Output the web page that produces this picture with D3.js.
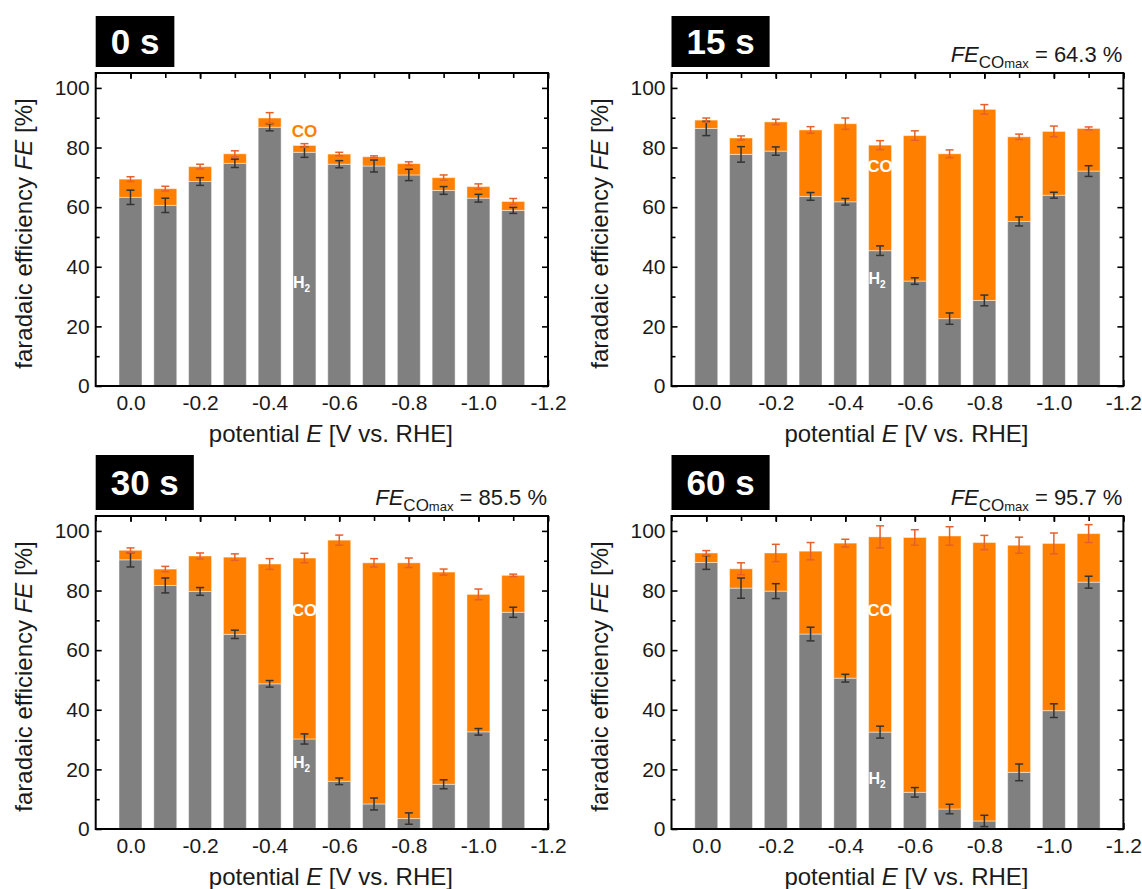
<!DOCTYPE html>
<html>
<head>
<meta charset="utf-8">
<script src="https://cdn.jsdelivr.net/npm/d3@7"></script>
<style>
  body { margin: 0; background: #fff; }
  svg { display: block; font-family: "Liberation Sans", Arial, sans-serif; }
</style>
</head>
<body>
<div id="chart"></div>
<script>
// x categories (potential, V vs. RHE)
const potentials = [0, -0.1, -0.2, -0.3, -0.4, -0.5, -0.6, -0.7, -0.8, -0.9, -1.0, -1.1];
const xTickValues = [0, -0.2, -0.4, -0.6, -0.8, -1.0, -1.2];
const xTickLabels = ["0.0", "-0.2", "-0.4", "-0.6", "-0.8", "-1.0", "-1.2"];
const xMinorTicks = [0.1, 0, -0.1, -0.2, -0.3, -0.4, -0.5, -0.6, -0.7, -0.8, -0.9, -1.0, -1.1, -1.2];
const yTickValues = [0, 20, 40, 60, 80, 100];
const yMinorTicks = [10, 30, 50, 70, 90];

// panel titles and FE_CO max
const panelTitles = ["0 s", "15 s", "30 s", "60 s"];
const feCoMax = [null, "64.3", "85.5", "95.7"];

// H2 and CO faradaic efficiencies (stacked), with error bars
const h2_0s = [63.3, 60.6, 68.6, 74.7, 86.8, 78.4, 74.4, 73.8, 70.8, 65.6, 63.0, 58.9];
const co_0s = [6.1, 5.6, 5.0, 3.2, 3.1, 2.3, 3.4, 3.1, 3.8, 4.3, 3.9, 3.0];
const h2Err_0s = [2.4, 2.4, 1.3, 1.4, 1.2, 1.7, 1.2, 2.0, 1.9, 1.3, 1.3, 1.0];
const coErr_0s = [0.8, 0.8, 0.8, 1.0, 1.8, 0.6, 0.6, 0.3, 0.6, 0.9, 0.9, 1.0];

const h2_15s = [86.4, 77.7, 78.8, 63.6, 61.8, 45.4, 35.2, 22.6, 28.7, 55.2, 64.0, 72.1];
const co_15s = [2.8, 5.5, 9.8, 22.3, 26.2, 35.4, 48.8, 55.3, 64.1, 28.4, 21.4, 14.3];
const h2Err_15s = [2.4, 2.6, 1.4, 1.3, 1.1, 1.6, 1.1, 1.9, 1.8, 1.5, 1.0, 1.8];
const coErr_15s = [0.7, 0.7, 0.9, 1.1, 1.9, 1.5, 1.6, 1.3, 1.6, 0.9, 1.8, 0.5];

const h2_30s = [90.3, 81.7, 79.7, 65.3, 48.7, 30.2, 16.0, 8.4, 3.5, 15.0, 32.6, 72.7];
const co_30s = [3.2, 5.5, 11.9, 25.9, 40.2, 60.7, 80.9, 80.9, 85.8, 71.2, 46.1, 12.4];
const h2Err_30s = [2.4, 2.5, 1.3, 1.4, 1.1, 1.7, 1.1, 2.0, 1.9, 1.5, 1.1, 1.7];
const coErr_30s = [0.8, 0.9, 1.0, 1.1, 1.8, 1.6, 1.7, 1.4, 1.6, 1.0, 1.8, 0.4];

const h2_60s = [89.4, 80.8, 79.8, 65.4, 50.6, 32.5, 12.3, 6.7, 2.7, 19.0, 39.7, 82.8];
const co_60s = [3.2, 6.5, 12.8, 27.8, 45.3, 65.5, 85.5, 91.6, 93.4, 76.2, 56.1, 16.3];
const h2Err_60s = [2.3, 3.4, 2.5, 2.3, 1.3, 2.0, 1.6, 1.6, 1.9, 2.8, 2.3, 2.0];
const coErr_60s = [0.8, 2.0, 2.9, 2.9, 1.3, 3.7, 2.6, 3.1, 2.4, 2.7, 3.5, 3.0];

// where the "CO" / "H2" labels sit (y value, on the -0.5 V bar)
const labelPotential = -0.5;
const coLabelY = [85.4, 73.7, 73.3, 73.4];
const h2LabelY = [35.0, 36.3, 22.4, 17.0];

const series = [
  [h2_0s, co_0s, h2Err_0s, coErr_0s],
  [h2_15s, co_15s, h2Err_15s, coErr_15s],
  [h2_30s, co_30s, h2Err_30s, coErr_30s],
  [h2_60s, co_60s, h2Err_60s, coErr_60s],
];

const WIDTH = 1142;
const HEIGHT = 889;
const GRAY = "#808080";
const ORANGE = "#ff8000";

// plot boxes
const boxes = [
  { left: 95.7, right: 548, top: 73, bottom: 386 },
  { left: 671.5, right: 1123.4, top: 73, bottom: 386 },
  { left: 95.7, right: 548, top: 516, bottom: 829 },
  { left: 671.5, right: 1123.4, top: 516, bottom: 829 },
];

const svg = d3.select("#chart").append("svg")
  .attr("width", WIDTH)
  .attr("height", HEIGHT);

boxes.forEach((b, p) => {
  const [h2, co, h2Err, coErr] = series[p];
  const x = d3.scaleLinear().domain([0.1, -1.2]).range([b.left, b.right]);
  const y = d3.scaleLinear().domain([0, 105]).range([b.bottom, b.top]);
  const bw = Math.abs(x(0) - x(0.066));
  const g = svg.append("g");

  // ticks (inward)
  const ax = g.append("g");
  ax.append("g").attr("transform", `translate(${b.left},0)`)
    .call(d3.axisLeft(y).tickValues(yTickValues).tickSize(-6).tickPadding(6));
  ax.append("g").attr("transform", `translate(${b.left},0)`)
    .call(d3.axisLeft(y).tickValues(yMinorTicks).tickSize(-4).tickFormat(""));
  ax.append("g").attr("transform", `translate(${b.right},0)`)
    .call(d3.axisRight(y).tickValues(yTickValues).tickSize(-6).tickFormat(""));
  ax.append("g").attr("transform", `translate(${b.right},0)`)
    .call(d3.axisRight(y).tickValues(yMinorTicks).tickSize(-4).tickFormat(""));
  ax.append("g").attr("transform", `translate(0,${b.top})`)
    .call(d3.axisTop(x).tickValues(xTickValues).tickSize(-6).tickFormat(""));
  ax.append("g").attr("transform", `translate(0,${b.top})`)
    .call(d3.axisTop(x).tickValues(xMinorTicks).tickSize(-5).tickFormat(""));
  ax.append("g").attr("transform", `translate(0,${b.bottom})`)
    .call(d3.axisBottom(x).tickValues(xTickValues).tickSize(-6).tickPadding(9.5)
      .tickFormat((d, i) => xTickLabels[i]));
  ax.selectAll(".domain").remove();
  ax.selectAll(".tick line").attr("stroke", "#000").attr("stroke-width", 1.6);
  ax.selectAll(".tick text").attr("font-size", 21).attr("fill", "#1a1a1a")
    .attr("font-family", "'Liberation Sans', Arial, sans-serif");

  // stacked bars
  g.append("g").selectAll("rect").data(potentials).join("rect")
    .attr("x", (d) => x(d) - bw / 2)
    .attr("width", bw)
    .attr("y", (d, i) => y(h2[i]))
    .attr("height", (d, i) => y(0) - y(h2[i]))
    .attr("fill", GRAY)
    .attr("stroke", "rgba(255,255,255,0.45)")
    .attr("stroke-width", 1);
  g.append("g").selectAll("rect").data(potentials).join("rect")
    .attr("x", (d) => x(d) - bw / 2)
    .attr("width", bw)
    .attr("y", (d, i) => y(h2[i] + co[i]))
    .attr("height", (d, i) => y(h2[i]) - y(h2[i] + co[i]))
    .attr("fill", ORANGE)
    .attr("stroke", "rgba(255,255,255,0.45)")
    .attr("stroke-width", 1);

  // error bars
  function errorBars(top, err, color) {
    const eg = g.append("g").attr("stroke", color).attr("stroke-width", 1.5);
    potentials.forEach((d, i) => {
      const cx = x(d);
      const y1 = y(top[i] + err[i]);
      const y2 = y(top[i] - err[i]);
      eg.append("line").attr("x1", cx).attr("x2", cx).attr("y1", y1).attr("y2", y2);
      eg.append("line").attr("x1", cx - 4).attr("x2", cx + 4).attr("y1", y1).attr("y2", y1);
      eg.append("line").attr("x1", cx - 4).attr("x2", cx + 4).attr("y1", y2).attr("y2", y2);
    });
  }
  errorBars(h2, h2Err, "#333333");
  errorBars(h2.map((v, i) => v + co[i]), coErr, "#e5602a");

  // species labels
  g.append("text")
    .attr("x", x(labelPotential))
    .attr("y", y(coLabelY[p]) + 6)
    .attr("text-anchor", "middle")
    .attr("font-size", 17)
    .attr("font-weight", "bold")
    .attr("fill", p === 0 ? ORANGE : "#fff")
    .text("CO");
  const h2t = g.append("text")
    .attr("x", x(labelPotential) - 3)
    .attr("y", y(h2LabelY[p]) + 6)
    .attr("text-anchor", "middle")
    .attr("font-size", 16)
    .attr("font-weight", "bold")
    .attr("fill", "#fff");
  h2t.append("tspan").text("H");
  h2t.append("tspan").attr("font-size", 10).attr("dy", 4).text("2");

  // frame
  g.append("rect")
    .attr("x", b.left).attr("y", b.top)
    .attr("width", b.right - b.left).attr("height", b.bottom - b.top)
    .attr("fill", "none").attr("stroke", "#000").attr("stroke-width", 2);

  // axis titles
  const xt = g.append("text")
    .attr("x", (b.left + b.right) / 2 + 9)
    .attr("y", b.bottom + 55.5)
    .attr("text-anchor", "middle")
    .attr("font-size", 24)
    .attr("fill", "#1a1a1a");
  xt.append("tspan").text("potential ");
  xt.append("tspan").attr("font-style", "italic").text("E");
  xt.append("tspan").text(" [V vs. RHE]");

  const yt = g.append("text")
    .attr("transform", `translate(${b.left - 63.7},${(b.top + b.bottom) / 2 + 4}) rotate(-90)`)
    .attr("text-anchor", "middle")
    .attr("font-size", 24)
    .attr("fill", "#1a1a1a");
  yt.append("tspan").text("faradaic efficiency ");
  yt.append("tspan").attr("font-style", "italic").text("FE");
  yt.append("tspan").text(" [%]");

  // black title box
  const boxH = p < 2 ? 51 : 55;
  const tg = g.append("g");
  const tbox = tg.append("rect")
    .attr("x", b.left)
    .attr("y", b.top - 6 - boxH)
    .attr("height", boxH)
    .attr("fill", "#000");
  const title = tg.append("text")
    .attr("x", b.left + 15)
    .attr("y", b.top - 6 - boxH / 2 + 12.5)
    .attr("font-size", 35)
    .attr("font-weight", "bold")
    .attr("fill", "#fff")
    .text(panelTitles[p]);
  tbox.attr("width", title.node().getComputedTextLength() + 30);

  // FE_CO max annotation
  if (feCoMax[p]) {
    const ft = g.append("text")
      .attr("x", b.right - 1)
      .attr("y", b.top - 11)
      .attr("text-anchor", "end")
      .attr("font-size", 22)
      .attr("fill", "#1a1a1a");
    ft.append("tspan").attr("font-style", "italic").text("FE");
    ft.append("tspan").attr("font-size", 17).attr("dy", 6).text("CO");
    ft.append("tspan").attr("font-size", 13).text("max");
    ft.append("tspan").attr("dy", -6).text(` = ${feCoMax[p]} %`);
  }
});
</script>
</body>
</html>
